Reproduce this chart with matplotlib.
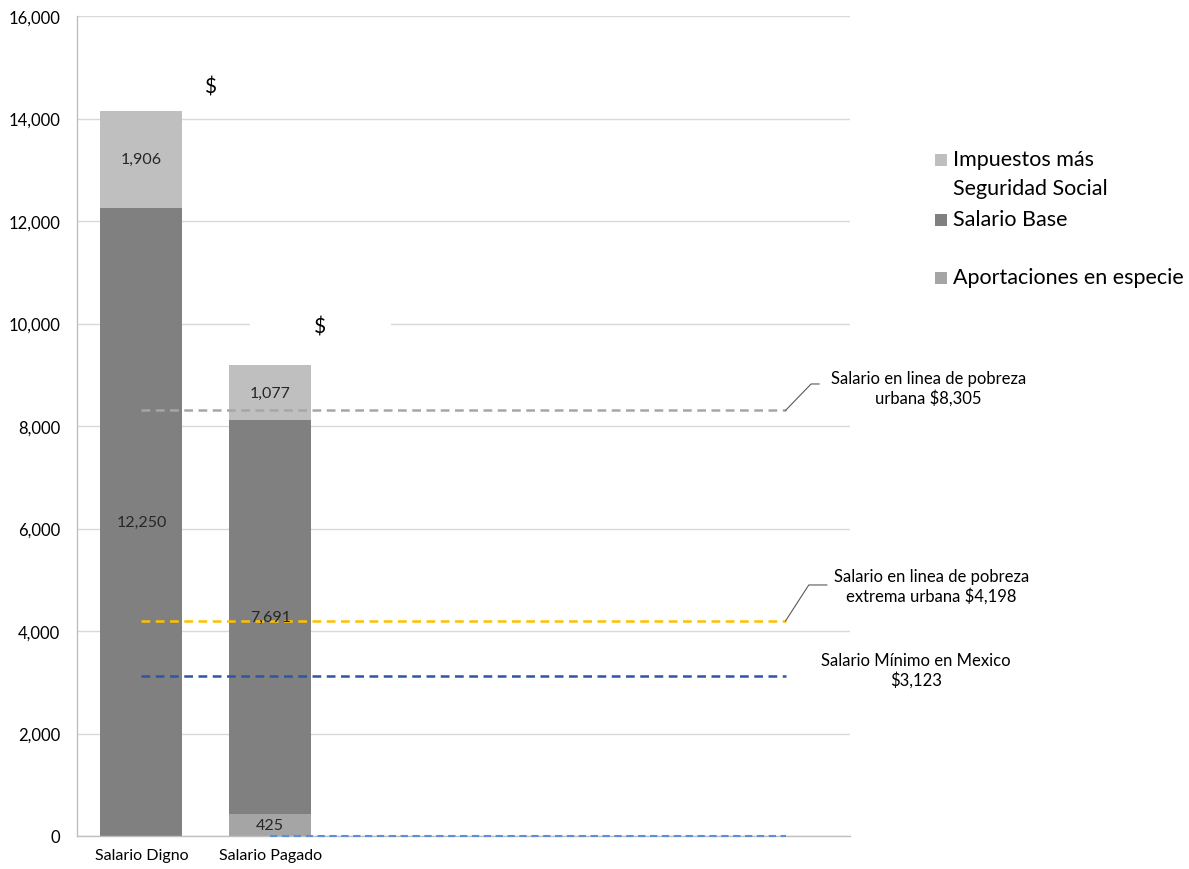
import matplotlib
matplotlib.use("Agg")
import matplotlib.pyplot as plt
from matplotlib.patches import Rectangle

plt.rcParams['font.family'] = ['Lato', 'DejaVu Sans']

# Categories (six slots on the axis, only the first two carry bars)
categories = ["Salario Digno", "Salario Pagado", "", "", "", ""]
bar_names = ["Salario Digno", "Salario Pagado"]

# Stacked components per bar
aportaciones = [0, 425]
salario_base = [12250, 7691]
impuestos = [1906, 1077]

# Reference lines
linea_pobreza_urbana = 8305
linea_pobreza_extrema = 4198
salario_minimo = 3123
aportacion_linea = [0, 0, 0, 0, 0]   # flat series across slots 1..5

yticks = [0, 2000, 4000, 6000, 8000, 10000, 12000, 14000, 16000]

c_imp = "#BFBFBF"
c_base = "#808080"
c_apor = "#A5A5A5"
c_grid = "#D9D9D9"
c_text = "#000000"

fig = plt.figure(figsize=(11.89, 8.70), dpi=100)
ax = fig.add_axes([77/1189, 33/870, (850-77)/1189, (837-17)/870])

x = list(range(len(bar_names)))
w = 0.636
ax.bar(x, aportaciones, w, color=c_apor, zorder=2)
ax.bar(x, salario_base, w, bottom=aportaciones, color=c_base, zorder=2)
bottom2 = [a + b for a, b in zip(aportaciones, salario_base)]
ax.bar(x, impuestos, w, bottom=bottom2, color=c_imp, zorder=2)

lbl_fs = 11.5
for i in x:
    if aportaciones[i] > 0:
        ax.text(i, aportaciones[i] / 2, f"{aportaciones[i]:,}", ha="center", va="center",
                fontsize=lbl_fs, color="#262626", zorder=5)
    ax.text(i, aportaciones[i] + salario_base[i] / 2, f"{salario_base[i]:,}", ha="center",
            va="center", fontsize=lbl_fs, color="#262626", zorder=5)
    ax.text(i, bottom2[i] + impuestos[i] / 2, f"{impuestos[i]:,}", ha="center", va="center",
            fontsize=lbl_fs, color="#262626", zorder=5)

# Total markers with white background
ax.text(0.53, 14634, "$", ha="center", va="center", fontsize=15, color=c_text, zorder=4,
        bbox=dict(facecolor="white", edgecolor="none", boxstyle="square,pad=0.3"))
ax.text(1.39, 9932, "           $           ", ha="center", va="center", fontsize=15,
        color=c_text, zorder=4,
        bbox=dict(facecolor="white", edgecolor="none", boxstyle="square,pad=0.25"))

# Horizontal dashed reference lines spanning slots 0..5
xs = [0, 5]
dash = (0, (3.5, 2.2))
ax.plot(xs, [linea_pobreza_urbana] * 2, ls=dash, color="#A6A6A6", lw=1.8, zorder=3)
ax.plot(xs, [linea_pobreza_extrema] * 2, ls=dash, color="#FFC000", lw=1.8, zorder=3)
ax.plot(xs, [salario_minimo] * 2, ls=dash, color="#2F55A5", lw=1.8, zorder=3)
ax.plot(range(1, 6), aportacion_linea, ls=dash, color="#5B8FD9", lw=1.5, zorder=4,
        clip_on=False)

# Annotation labels with leader lines
ann_fs = 12
ax.plot([5, 5.198, 5.26], [linea_pobreza_urbana, 8820, 8820], color="#595959", lw=0.8,
        clip_on=False, zorder=3)
ax.text(6.11, 8741, "Salario en linea de pobreza\nurbana $8,305", ha="center", va="center",
        fontsize=ann_fs, color=c_text, clip_on=False, linespacing=1.2)
ax.plot([5, 5.18, 5.32], [linea_pobreza_extrema, 4898, 4898], color="#595959", lw=0.8,
        clip_on=False, zorder=3)
ax.text(6.13, 4878, "Salario en linea de pobreza\nextrema urbana $4,198", ha="center",
        va="center", fontsize=ann_fs, color=c_text, clip_on=False, linespacing=1.2)
ax.text(6.01, 3239, "Salario Mínimo en Mexico\n$3,123", ha="center", va="center",
        fontsize=ann_fs, color=c_text, clip_on=False, linespacing=1.2)

ax.set_xlim(-0.5, 5.5)
ax.set_ylim(0, 16000)
ax.set_yticks(yticks)
ax.set_yticklabels([f"{v:,}" for v in yticks], fontsize=12, color=c_text)
ax.set_xticks(range(len(categories)))
ax.set_xticklabels(categories, fontsize=11.5, color=c_text)
ax.tick_params(axis="x", length=0, pad=9)
ax.tick_params(axis="y", length=0, pad=12)
ax.grid(axis="y", color=c_grid, lw=1, zorder=0)
ax.set_axisbelow(True)
for s in ["top", "right"]:
    ax.spines[s].set_visible(False)
for s in ["left", "bottom"]:
    ax.spines[s].set_color("#BFBFBF")
    ax.spines[s].set_linewidth(1)

# Legend drawn as colour squares with text
leg_fs = 15.5
entries = [
    (c_imp, "Impuestos más\nSeguridad Social", 161),
    (c_base, "Salario Base", 221),
    (c_apor, "Aportaciones en especie", 279),
]
for color, label, ypx in entries:
    fig.patches.append(Rectangle((935/1189, 1 - (ypx + 6)/870), 12/1189, 12/870,
                                 transform=fig.transFigure, facecolor=color, edgecolor="none"))
    fig.text(953/1189, 1 - (ypx - 11)/870, label, ha="left", va="top", fontsize=leg_fs,
             color=c_text, linespacing=1.55)

fig.savefig("out.png", dpi=100)
